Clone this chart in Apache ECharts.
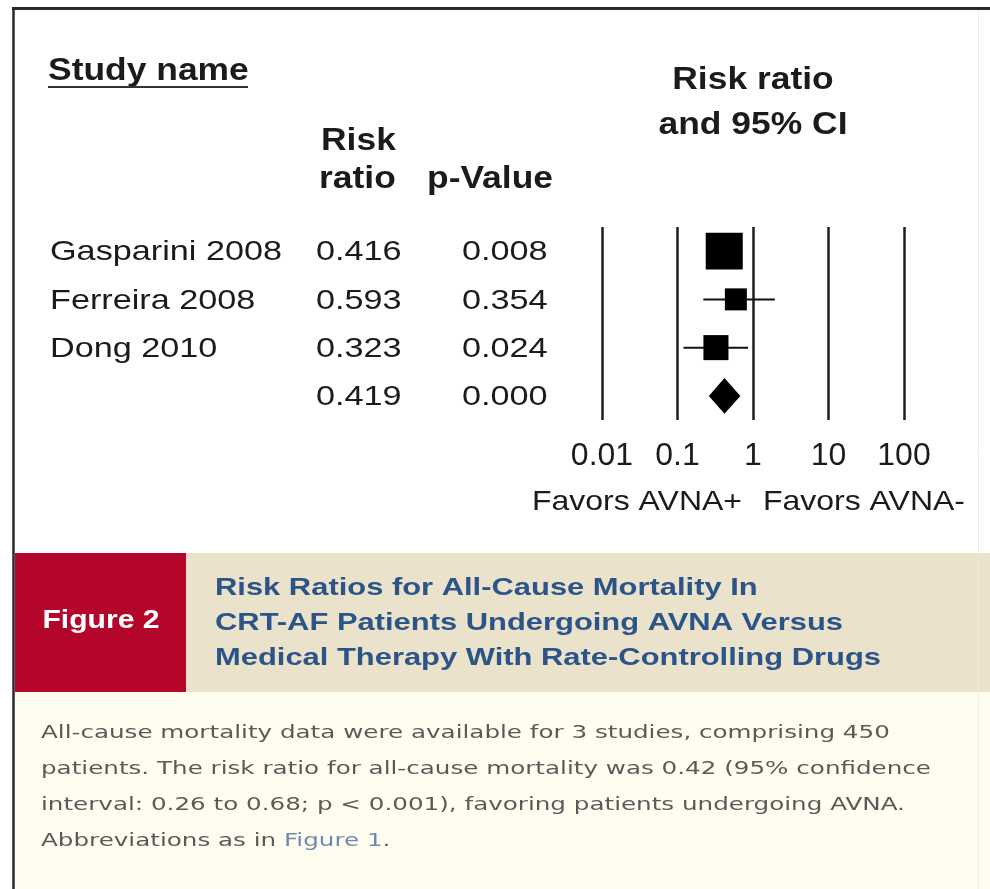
<!DOCTYPE html>
<html>
<head>
<meta charset="utf-8">
<title>Risk Ratios for All-Cause Mortality</title>
<script src="https://cdn.jsdelivr.net/npm/echarts@6/dist/echarts.min.js"></script>
<style>
  html, body { margin: 0; padding: 0; background: #ffffff; }
  #main { width: 990px; height: 889px; }
</style>
</head>
<body>
<div id="main"></div>
<script>
// ---- Data ----
const studies     = ['Gasparini 2008', 'Ferreira 2008', 'Dong 2010', ''];
const riskRatio   = [0.416, 0.593, 0.323, 0.419];
const riskLabels  = ['0.416', '0.593', '0.323', '0.419'];
const pValues     = ['0.008', '0.354', '0.024', '0.000'];
const ciLower     = [0.24, 0.22, 0.12, 0.26];
const ciUpper     = [0.72, 1.95, 0.86, 0.68];
const weights     = [55.2, 19.5, 25.3];          // relative study weight (%)
const xTicks      = [0.01, 0.1, 1, 10, 100];
const xTickLabels = ['0.01', '0.1', '1', '10', '100'];
const favorLabels = ['Favors AVNA+', 'Favors AVNA-'];
const figureTag   = 'Figure 2';
const titleLines  = [
  'Risk Ratios for All-Cause Mortality In',
  'CRT-AF Patients Undergoing AVNA Versus',
  'Medical Therapy With Rate-Controlling Drugs'
];
const noteLines = [
  'All-cause mortality data were available for 3 studies, comprising 450',
  'patients. The risk ratio for all-cause mortality was 0.42 (95% confidence',
  'interval: 0.26 to 0.68; p < 0.001), favoring patients undergoing AVNA.',
  'Abbreviations as in {link|Figure 1}.'
];

// ---- Styling ----
const INK = '#1b1b1b';
const SANS = "'Liberation Sans', Arial, Helvetica, sans-serif";
const NOTE_FONT = "'DejaVu Sans', 'Liberation Sans', sans-serif";
const SQUARE_K = 4.98;   // px per sqrt(weight) for study squares

const chart = echarts.init(document.getElementById('main'), null, { renderer: 'canvas' });
const rowIdx = studies.map((_, i) => i);
const nStudies = weights.length;

const option = {
  backgroundColor: '#ffffff',
  animation: false,
  textStyle: { fontFamily: SANS },
  grid: { left: 602, right: 86, top: 227, bottom: 469 },
  xAxis: {
    type: 'log',
    logBase: 10,
    min: xTicks[0],
    max: xTicks[xTicks.length - 1],
    axisLine: { show: false },
    axisTick: { show: false },
    splitLine: { show: true, lineStyle: { color: '#1e1e1e', width: 2.5 } },
    axisLabel: {
      fontSize: 32,
      color: INK,
      fontFamily: SANS,
      margin: 20,
      formatter: function (v) {
        const k = xTicks.findIndex(t => Math.abs(Math.log10(t) - Math.log10(v)) < 1e-6);
        return k >= 0 ? xTickLabels[k] : '';
      }
    }
  },
  yAxis: {
    type: 'category',
    data: rowIdx.map(String),
    inverse: true,
    show: false
  },
  series: [
    {
      // confidence-interval whiskers of the individual studies
      type: 'custom',
      z: 2,
      encode: { x: [0, 1], y: 2 },
      data: rowIdx.slice(0, nStudies).map(i => [ciLower[i], ciUpper[i], i]),
      renderItem: function (params, api) {
        const y = api.value(2);
        const a = api.coord([api.value(0), y]);
        const b = api.coord([api.value(1), y]);
        return {
          type: 'line',
          shape: { x1: a[0], y1: a[1], x2: b[0], y2: b[1] },
          style: { stroke: '#111111', lineWidth: 2 }
        };
      }
    },
    {
      // point estimates, square area proportional to weight
      type: 'scatter',
      z: 3,
      symbol: 'rect',
      data: rowIdx.slice(0, nStudies).map(i => [riskRatio[i], i, weights[i]]),
      symbolSize: function (val) { return SQUARE_K * Math.sqrt(val[2]); },
      itemStyle: { color: '#000000', opacity: 1 }
    },
    {
      // pooled estimate diamond spanning its confidence interval
      type: 'custom',
      z: 3,
      encode: { x: [0, 1, 2], y: 3 },
      data: [[ciLower[3], riskRatio[3], ciUpper[3], 3]],
      renderItem: function (params, api) {
        const y = api.value(3);
        const lo = api.coord([api.value(0), y]);
        const mid = api.coord([api.value(1), y]);
        const hi = api.coord([api.value(2), y]);
        const band = Math.abs(api.coord([1, 1])[1] - api.coord([1, 0])[1]);
        const h = band * 0.37;
        return {
          type: 'polygon',
          shape: { points: [[lo[0], lo[1]], [mid[0], mid[1] - h], [hi[0], hi[1]], [mid[0], mid[1] + h]] },
          style: { fill: '#000000' }
        };
      }
    }
  ]
};

chart.setOption(option);

// ---- Text table, headers and caption ----
const measureCtx = document.createElement('canvas').getContext('2d');
function fit(text, font, width) {
  measureCtx.font = font;
  return width / measureCtx.measureText(text).width;
}
function txt(text, x, y, o) {
  return {
    type: 'text',
    x: x, y: y,
    scaleX: o.scaleX || 1,
    z: o.z || 10,
    silent: true,
    style: {
      text: text,
      fill: o.color || INK,
      fontSize: o.size,
      fontFamily: o.family || SANS,
      fontWeight: o.weight || 'normal',
      align: o.align || 'left',
      textAlign: o.align || 'left',
      verticalAlign: 'middle',
      textVerticalAlign: 'middle',
      rich: o.rich
    }
  };
}

const rowY = rowIdx.map(i => chart.convertToPixel({ yAxisIndex: 0 }, i));
const xOne = chart.convertToPixel({ xAxisIndex: 0 }, 1);

const headFont = 'bold 31px ' + SANS;
const headScale = fit('p-Value', headFont, 126);
const cellFont = '28px ' + SANS;
const cellScale = fit('Gasparini 2008', cellFont, 232);
const favFont = '28px ' + SANS;
const favScale = fit(favorLabels[0], favFont, 210);
const tagFont = 'bold 26px ' + SANS;
const tagScale = fit(figureTag, tagFont, 117);
const titleFont = 'bold 24px ' + SANS;
const titleScale = fit(titleLines[2], titleFont, 666);
const noteFont = '18px ' + NOTE_FONT;
const noteScale = fit(noteLines[1], noteFont, 890);

const graphics = [];

// caption panels
graphics.push({ type: 'rect', z: 1, silent: true, shape: { x: 15, y: 553, width: 171, height: 139 }, style: { fill: '#b4062b' } });
graphics.push({ type: 'rect', z: 1, silent: true, shape: { x: 186, y: 553, width: 804, height: 139 }, style: { fill: '#ebe2cb' } });
graphics.push({ type: 'rect', z: 1, silent: true, shape: { x: 15, y: 692, width: 975, height: 197 }, style: { fill: '#fffdf0' } });

// frame
graphics.push({ type: 'line', z: 20, silent: true, shape: { x1: 12, y1: 8.5, x2: 990, y2: 8.5 }, style: { stroke: '#2a2a2a', lineWidth: 3 } });
graphics.push({ type: 'line', z: 20, silent: true, shape: { x1: 13.5, y1: 7, x2: 13.5, y2: 889 }, style: { stroke: '#2a2a2a', lineWidth: 2.5 } });
graphics.push({ type: 'line', z: 20, silent: true, shape: { x1: 978.5, y1: 10, x2: 978.5, y2: 889 }, style: { stroke: '#ececE6', lineWidth: 1 } });

// column headers
graphics.push(txt('Study name', 48, 71, { size: 31, weight: 'bold', scaleX: headScale }));
graphics.push({ type: 'line', z: 10, silent: true, shape: { x1: 48, y1: 87, x2: 248, y2: 87 }, style: { stroke: '#333333', lineWidth: 2 } });
graphics.push(txt('Risk', 321, 141, { size: 31, weight: 'bold', scaleX: headScale }));
graphics.push(txt('ratio', 319, 179, { size: 31, weight: 'bold', scaleX: headScale }));
graphics.push(txt('p-Value', 427, 179, { size: 31, weight: 'bold', scaleX: headScale }));
graphics.push(txt('Risk ratio', xOne, 80, { size: 31, weight: 'bold', scaleX: headScale, align: 'center' }));
graphics.push(txt('and 95% CI', xOne, 125, { size: 31, weight: 'bold', scaleX: headScale, align: 'center' }));

// table rows
rowIdx.forEach(i => {
  const y = rowY[i] + 1.5;
  if (studies[i]) graphics.push(txt(studies[i], 50, y, { size: 28, scaleX: cellScale }));
  graphics.push(txt(riskLabels[i], 316, y, { size: 28, scaleX: cellScale }));
  graphics.push(txt(pValues[i], 462, y, { size: 28, scaleX: cellScale }));
});

// direction labels under the axis
graphics.push(txt(favorLabels[0], 532, 502, { size: 28, scaleX: favScale }));
graphics.push(txt(favorLabels[1], 763, 502, { size: 28, scaleX: favScale }));

// caption
graphics.push(txt(figureTag, 101, 621, { size: 26, weight: 'bold', color: '#ffffff', align: 'center', scaleX: tagScale }));
titleLines.forEach((line, k) => {
  graphics.push(txt(line, 215, 588 + k * 35, { size: 24, weight: 'bold', color: '#2b5489', scaleX: titleScale }));
});
noteLines.forEach((line, k) => {
  graphics.push(txt(line, 41, 733 + k * 36, {
    size: 18, family: NOTE_FONT, color: '#5a5a5a', scaleX: noteScale,
    rich: { link: { fill: '#6d8bb0', fontSize: 18, fontFamily: NOTE_FONT } }
  }));
});

chart.setOption({ graphic: { elements: graphics } });
</script>
</body>
</html>
